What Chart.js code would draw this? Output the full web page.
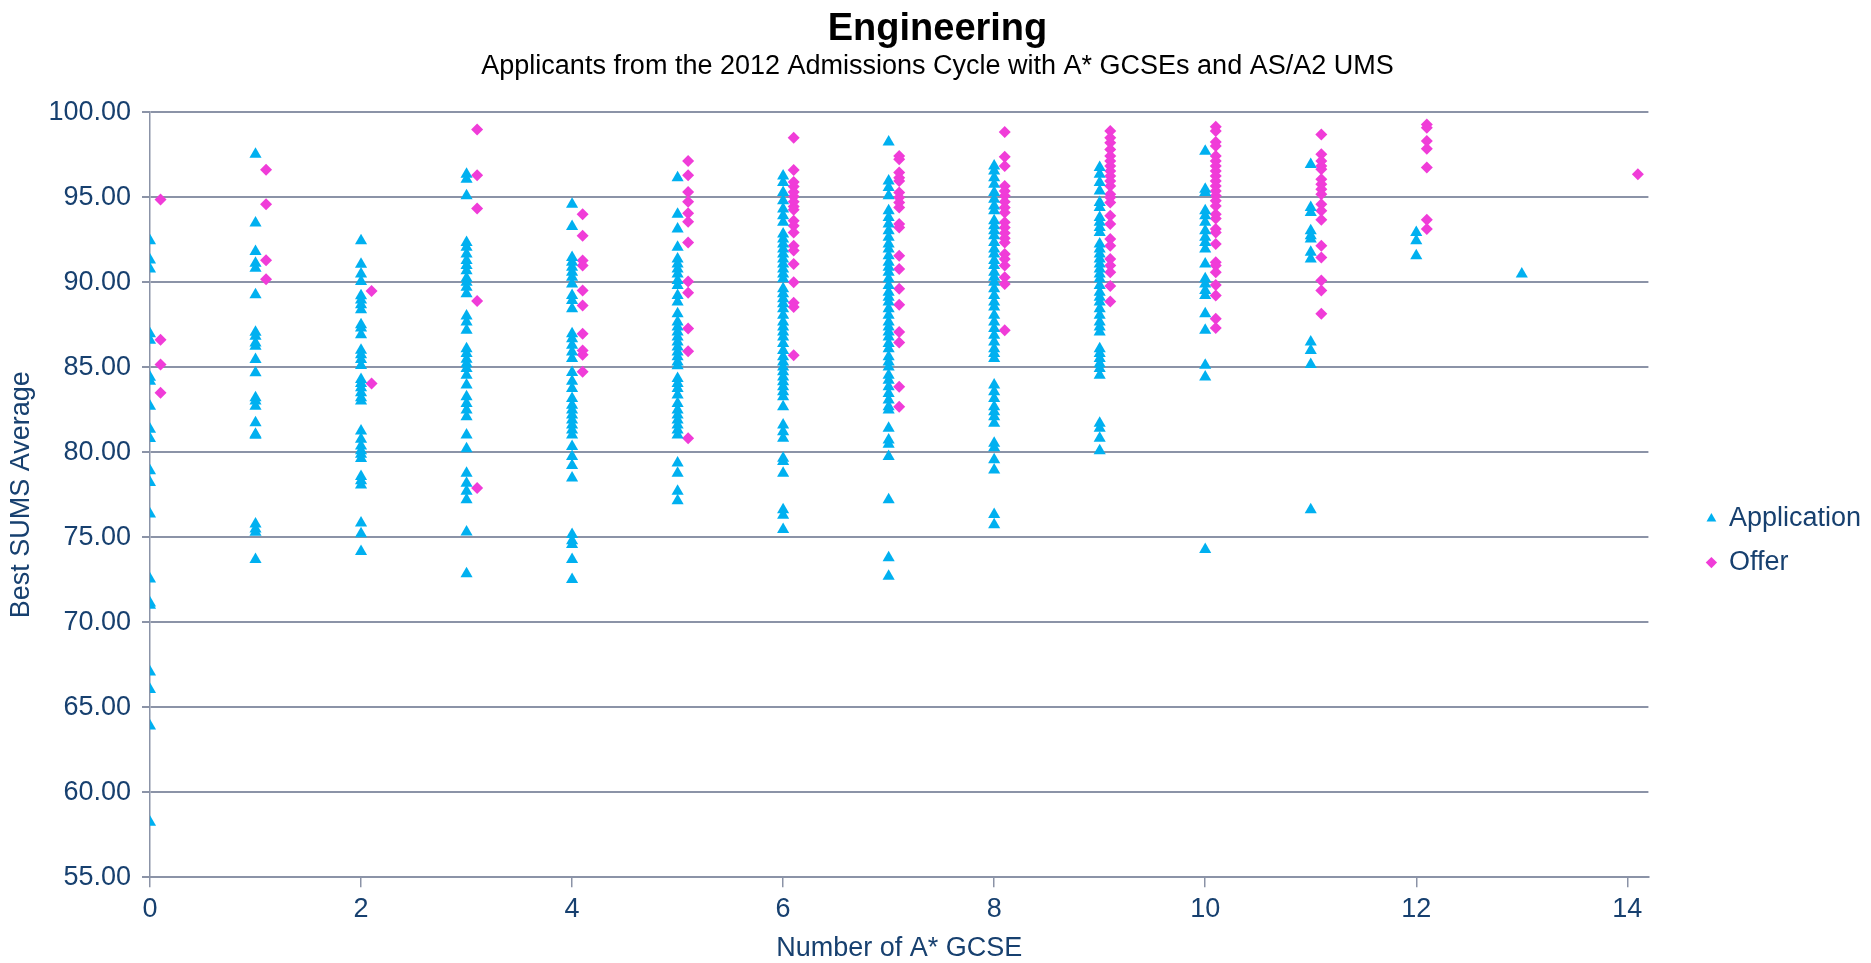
<!DOCTYPE html>
<html>
<head>
<meta charset="utf-8">
<script src="https://cdn.jsdelivr.net/npm/chart.js@4.4.1/dist/chart.umd.min.js"></script>
<style>
  html, body { margin: 0; padding: 0; background: #fff; }
  #wrap { width: 1871px; height: 963px; }
</style>
</head>
<body>
<div id="wrap"><canvas id="chart"></canvas></div>
<script>
// Number of A* GCSE (x) and Best SUMS Average values, one list per x value
const gcseCounts = [0, 1, 2, 3, 4, 5, 6, 7, 8, 9, 10, 11, 12, 13, 14];
const offerShift = 0.1; // offers are plotted at x + 0.1 in the source sheet

const app0 = [92.44, 91.31, 90.78, 86.97, 86.58, 84.41, 84.18, 82.71, 81.35, 80.80, 78.91, 78.22, 76.37, 72.54, 71.13, 71.0, 67.07, 66.05, 63.89, 58.24];
const app1 = [97.52, 93.49, 91.81, 91.11, 90.82, 89.26, 87.05, 86.82, 86.43, 86.23, 85.45, 84.67, 83.20, 83.01, 82.71, 81.74, 81.05, 81.0, 75.78, 75.49, 75.29, 73.69];
const app2 = [92.44, 91.05, 90.49, 90.04, 89.20, 88.96, 88.67, 88.38, 87.50, 87.30, 86.91, 86.0, 85.74, 85.45, 85.10, 84.28, 84.04, 83.79, 83.50, 83.20, 83.01, 81.25, 80.76, 80.37, 80.08, 79.88, 79.63, 78.57, 78.32, 78.07, 75.84, 75.20, 74.16];
const app3 = [96.35, 96.05, 95.08, 92.34, 92.05, 91.66, 91.27, 90.98, 90.68, 90.23, 90.0, 89.71, 89.32, 88.01, 87.66, 87.17, 86.09, 85.80, 85.47, 85.21, 84.92, 84.53, 83.95, 83.26, 82.87, 82.48, 82.09, 81.02, 80.20, 78.77, 78.18, 77.70, 77.21, 75.31, 72.85];
const app4 = [94.59, 93.28, 91.46, 91.17, 90.88, 90.59, 90.29, 89.90, 89.22, 88.93, 88.44, 86.97, 86.68, 86.29, 85.90, 85.51, 84.69, 84.18, 83.75, 83.16, 82.77, 82.48, 82.19, 81.89, 81.60, 81.31, 81.02, 80.33, 79.75, 79.22, 78.48, 75.16, 74.80, 74.57, 73.69, 72.52];
const app5 = [96.15, 94.0, 93.13, 92.05, 91.37, 91.07, 90.78, 90.49, 90.10, 89.80, 89.22, 88.83, 88.14, 87.66, 87.36, 87.07, 86.78, 86.48, 86.19, 85.90, 85.61, 85.31, 85.08, 84.34, 84.04, 83.75, 83.36, 82.87, 82.48, 82.19, 81.89, 81.60, 81.31, 81.02, 79.36, 78.77, 77.70, 77.15];
const app6 = [96.25, 95.86, 95.27, 94.79, 94.30, 93.91, 93.52, 92.83, 92.54, 92.25, 91.95, 91.66, 91.37, 91.07, 90.78, 90.49, 90.20, 89.61, 89.32, 89.02, 88.73, 88.44, 88.05, 87.66, 87.36, 87.07, 86.78, 86.39, 85.99, 85.61, 85.31, 85.02, 84.73, 84.43, 84.14, 83.85, 83.55, 83.26, 82.68, 81.60, 81.21, 80.82, 79.65, 79.45, 78.77, 76.62, 76.29, 75.45];
const app7 = [98.24, 95.96, 95.57, 95.08, 94.20, 93.81, 93.42, 93.03, 92.64, 92.25, 91.95, 91.56, 91.17, 90.88, 90.59, 90.20, 89.80, 89.41, 89.12, 88.83, 88.44, 88.05, 87.66, 87.36, 87.07, 86.78, 86.39, 86.09, 85.61, 85.31, 85.02, 84.53, 84.24, 83.85, 83.46, 83.07, 82.68, 82.48, 81.41, 80.72, 80.47, 79.75, 77.21, 73.79, 72.70];
const app8 = [96.84, 96.54, 96.15, 95.76, 95.27, 94.88, 94.49, 94.20, 93.61, 93.32, 93.03, 92.73, 92.34, 91.95, 91.66, 91.27, 90.98, 90.59, 90.29, 90.0, 89.61, 89.22, 88.83, 88.54, 88.05, 87.66, 87.27, 86.88, 86.48, 86.09, 85.80, 85.51, 83.95, 83.55, 83.16, 82.68, 82.38, 82.09, 81.70, 80.53, 80.27, 79.55, 78.96, 76.33, 75.74];
const app9 = [96.74, 96.35, 95.86, 95.37, 94.69, 94.39, 93.81, 93.52, 93.22, 92.93, 92.25, 91.95, 91.66, 91.37, 91.07, 90.78, 90.49, 90.20, 89.80, 89.41, 89.12, 88.83, 88.44, 88.05, 87.66, 87.36, 87.07, 86.09, 85.80, 85.51, 85.21, 84.92, 84.53, 81.70, 81.41, 80.82, 80.08];
const app10 = [97.71, 95.47, 95.27, 94.20, 93.91, 93.52, 93.03, 92.64, 92.34, 91.95, 91.07, 90.20, 89.90, 89.51, 89.22, 88.14, 87.17, 85.12, 84.43, 74.28];
const app11 = [96.93, 94.39, 94.10, 93.03, 92.73, 92.54, 91.76, 91.37, 86.48, 85.99, 85.16, 76.62];
const app12 = [92.93, 92.44, 91.56];
const app13 = [90.49];
const app14 = [];

const offer0 = [94.86, 86.62, 85.16, 83.50];
const offer1 = [96.62, 94.59, 91.29, 90.18];
const offer2 = [89.49, 84.04];
const offer3 = [98.98, 96.29, 94.34, 88.89, 77.89];
const offer4 = [94.00, 92.73, 91.27, 90.98, 89.51, 88.63, 86.97, 85.99, 85.74, 84.73];
const offer5 = [97.13, 96.29, 95.31, 94.73, 94.06, 93.55, 92.34, 90.04, 89.38, 87.27, 85.94, 80.82];
const offer6 = [98.50, 96.60, 95.90, 95.63, 95.31, 95.04, 94.73, 94.45, 94.26, 93.61, 93.32, 92.93, 92.15, 91.86, 91.07, 90.0, 88.79, 88.54, 85.70];
const offer7 = [97.42, 97.23, 96.45, 96.15, 95.96, 95.27, 94.98, 94.69, 94.39, 93.42, 93.22, 91.56, 90.78, 89.61, 88.67, 87.07, 86.45, 83.85, 82.68];
const offer8 = [98.83, 97.38, 96.84, 95.66, 95.37, 95.08, 94.73, 94.39, 94.10, 93.52, 93.22, 92.89, 92.58, 92.34, 91.66, 91.37, 90.98, 90.29, 89.90, 87.17];
const offer9 = [98.89, 98.50, 98.20, 97.81, 97.42, 97.13, 96.84, 96.54, 96.25, 95.96, 95.66, 95.18, 94.98, 94.69, 93.91, 93.42, 92.54, 92.15, 91.37, 90.98, 90.59, 89.77, 88.87];
const offer10 = [99.14, 98.89, 98.24, 98.01, 97.42, 97.13, 96.84, 96.54, 96.25, 95.96, 95.66, 95.37, 95.08, 94.79, 94.49, 94.0, 93.75, 93.13, 92.93, 92.25, 91.17, 90.98, 90.59, 89.84, 89.22, 87.85, 87.30];
const offer11 = [98.69, 97.52, 97.13, 96.84, 96.64, 96.05, 95.76, 95.47, 95.18, 94.59, 94.20, 93.67, 92.15, 91.46, 90.10, 89.51, 88.14];
const offer12 = [99.28, 99.08, 98.30, 97.85, 96.74, 93.67, 93.13];
const offer13 = [];
const offer14 = [96.35];

const applicationScores = [app0, app1, app2, app3, app4, app5, app6, app7, app8, app9, app10, app11, app12, app13, app14];
const offerScores = [offer0, offer1, offer2, offer3, offer4, offer5, offer6, offer7, offer8, offer9, offer10, offer11, offer12, offer13, offer14];

const yTicks = [55, 60, 65, 70, 75, 80, 85, 90, 95, 100];

const toPoints = (lists, shift) =>
  gcseCounts.flatMap((g, i) => lists[i].map((v) => ({ x: g + shift, y: v })));

const navy = '#17406f';
const gridGray = '#8b93a7';

Chart.defaults.font.family = "'Liberation Sans', Arial, sans-serif";
Chart.defaults.color = navy;

new Chart(document.getElementById('chart'), {
  type: 'scatter',
  data: {
    datasets: [
      {
        label: 'Application',
        data: toPoints(applicationScores, 0),
        pointStyle: 'triangle',
        pointRadius: 7,
        borderWidth: 0,
        backgroundColor: '#00b0f0',
        borderColor: '#00b0f0'
      },
      {
        label: 'Offer',
        data: toPoints(offerScores, offerShift),
        pointStyle: 'rectRot',
        pointRadius: 6,
        borderWidth: 0,
        backgroundColor: '#f03cd8',
        borderColor: '#f03cd8'
      }
    ]
  },
  options: {
    responsive: true,
    maintainAspectRatio: false,
    devicePixelRatio: 1,
    animation: false,
    layout: { padding: { left: 4, bottom: 0 } },
    plugins: {
      title: {
        display: true,
        text: 'Engineering',
        color: '#000',
        font: { size: 38, weight: 'bold', lineHeight: 1.1 },
        padding: { top: 9, bottom: 0 }
      },
      subtitle: {
        display: true,
        text: 'Applicants from the 2012 Admissions Cycle with A* GCSEs and AS/A2 UMS',
        color: '#000',
        font: { size: 27 },
        padding: { top: 0, bottom: 29 }
      },
      legend: {
        position: 'right',
        title: { display: true, text: ' ', font: { size: 1 }, padding: { top: 117, bottom: 0 } },
        labels: {
          usePointStyle: true,
          boxWidth: 8,
          boxHeight: 8,
          padding: 17,
          color: navy,
          font: { size: 27 }
        }
      },
      tooltip: { enabled: false }
    },
    scales: {
      x: {
        type: 'linear',
        min: 0,
        max: 14.2,
        title: {
          display: true,
          text: 'Number of A* GCSE',
          color: navy,
          font: { size: 27, lineHeight: 1.05 },
          padding: { top: 3, bottom: 0 }
        },
        ticks: { stepSize: 2, includeBounds: false, padding: 6, color: navy, font: { size: 27 } },
        grid: { drawOnChartArea: false, drawTicks: true, tickLength: 10, color: gridGray, lineWidth: 1.5 },
        border: { display: true, color: gridGray, width: 2 }
      },
      y: {
        type: 'linear',
        min: yTicks[0],
        max: yTicks[yTicks.length - 1],
        title: {
          display: true,
          text: 'Best SUMS Average',
          color: navy,
          font: { size: 27 },
          padding: { top: 1, bottom: 0 }
        },
        afterBuildTicks: (axis) => { axis.ticks = yTicks.map((v) => ({ value: v })); },
        ticks: { padding: 11, color: navy, font: { size: 27 }, callback: (v) => Number(v).toFixed(2) },
        grid: { color: gridGray, lineWidth: 2, tickLength: 8 },
        border: { display: true, color: gridGray, width: 1.5 }
      },
      gap: {
        type: 'linear',
        position: 'right',
        display: true,
        grid: { display: false },
        ticks: { display: false },
        border: { display: false },
        afterFit: (axis) => { axis.width = 42; }
      }
    }
  }
});
</script>
</body>
</html>
